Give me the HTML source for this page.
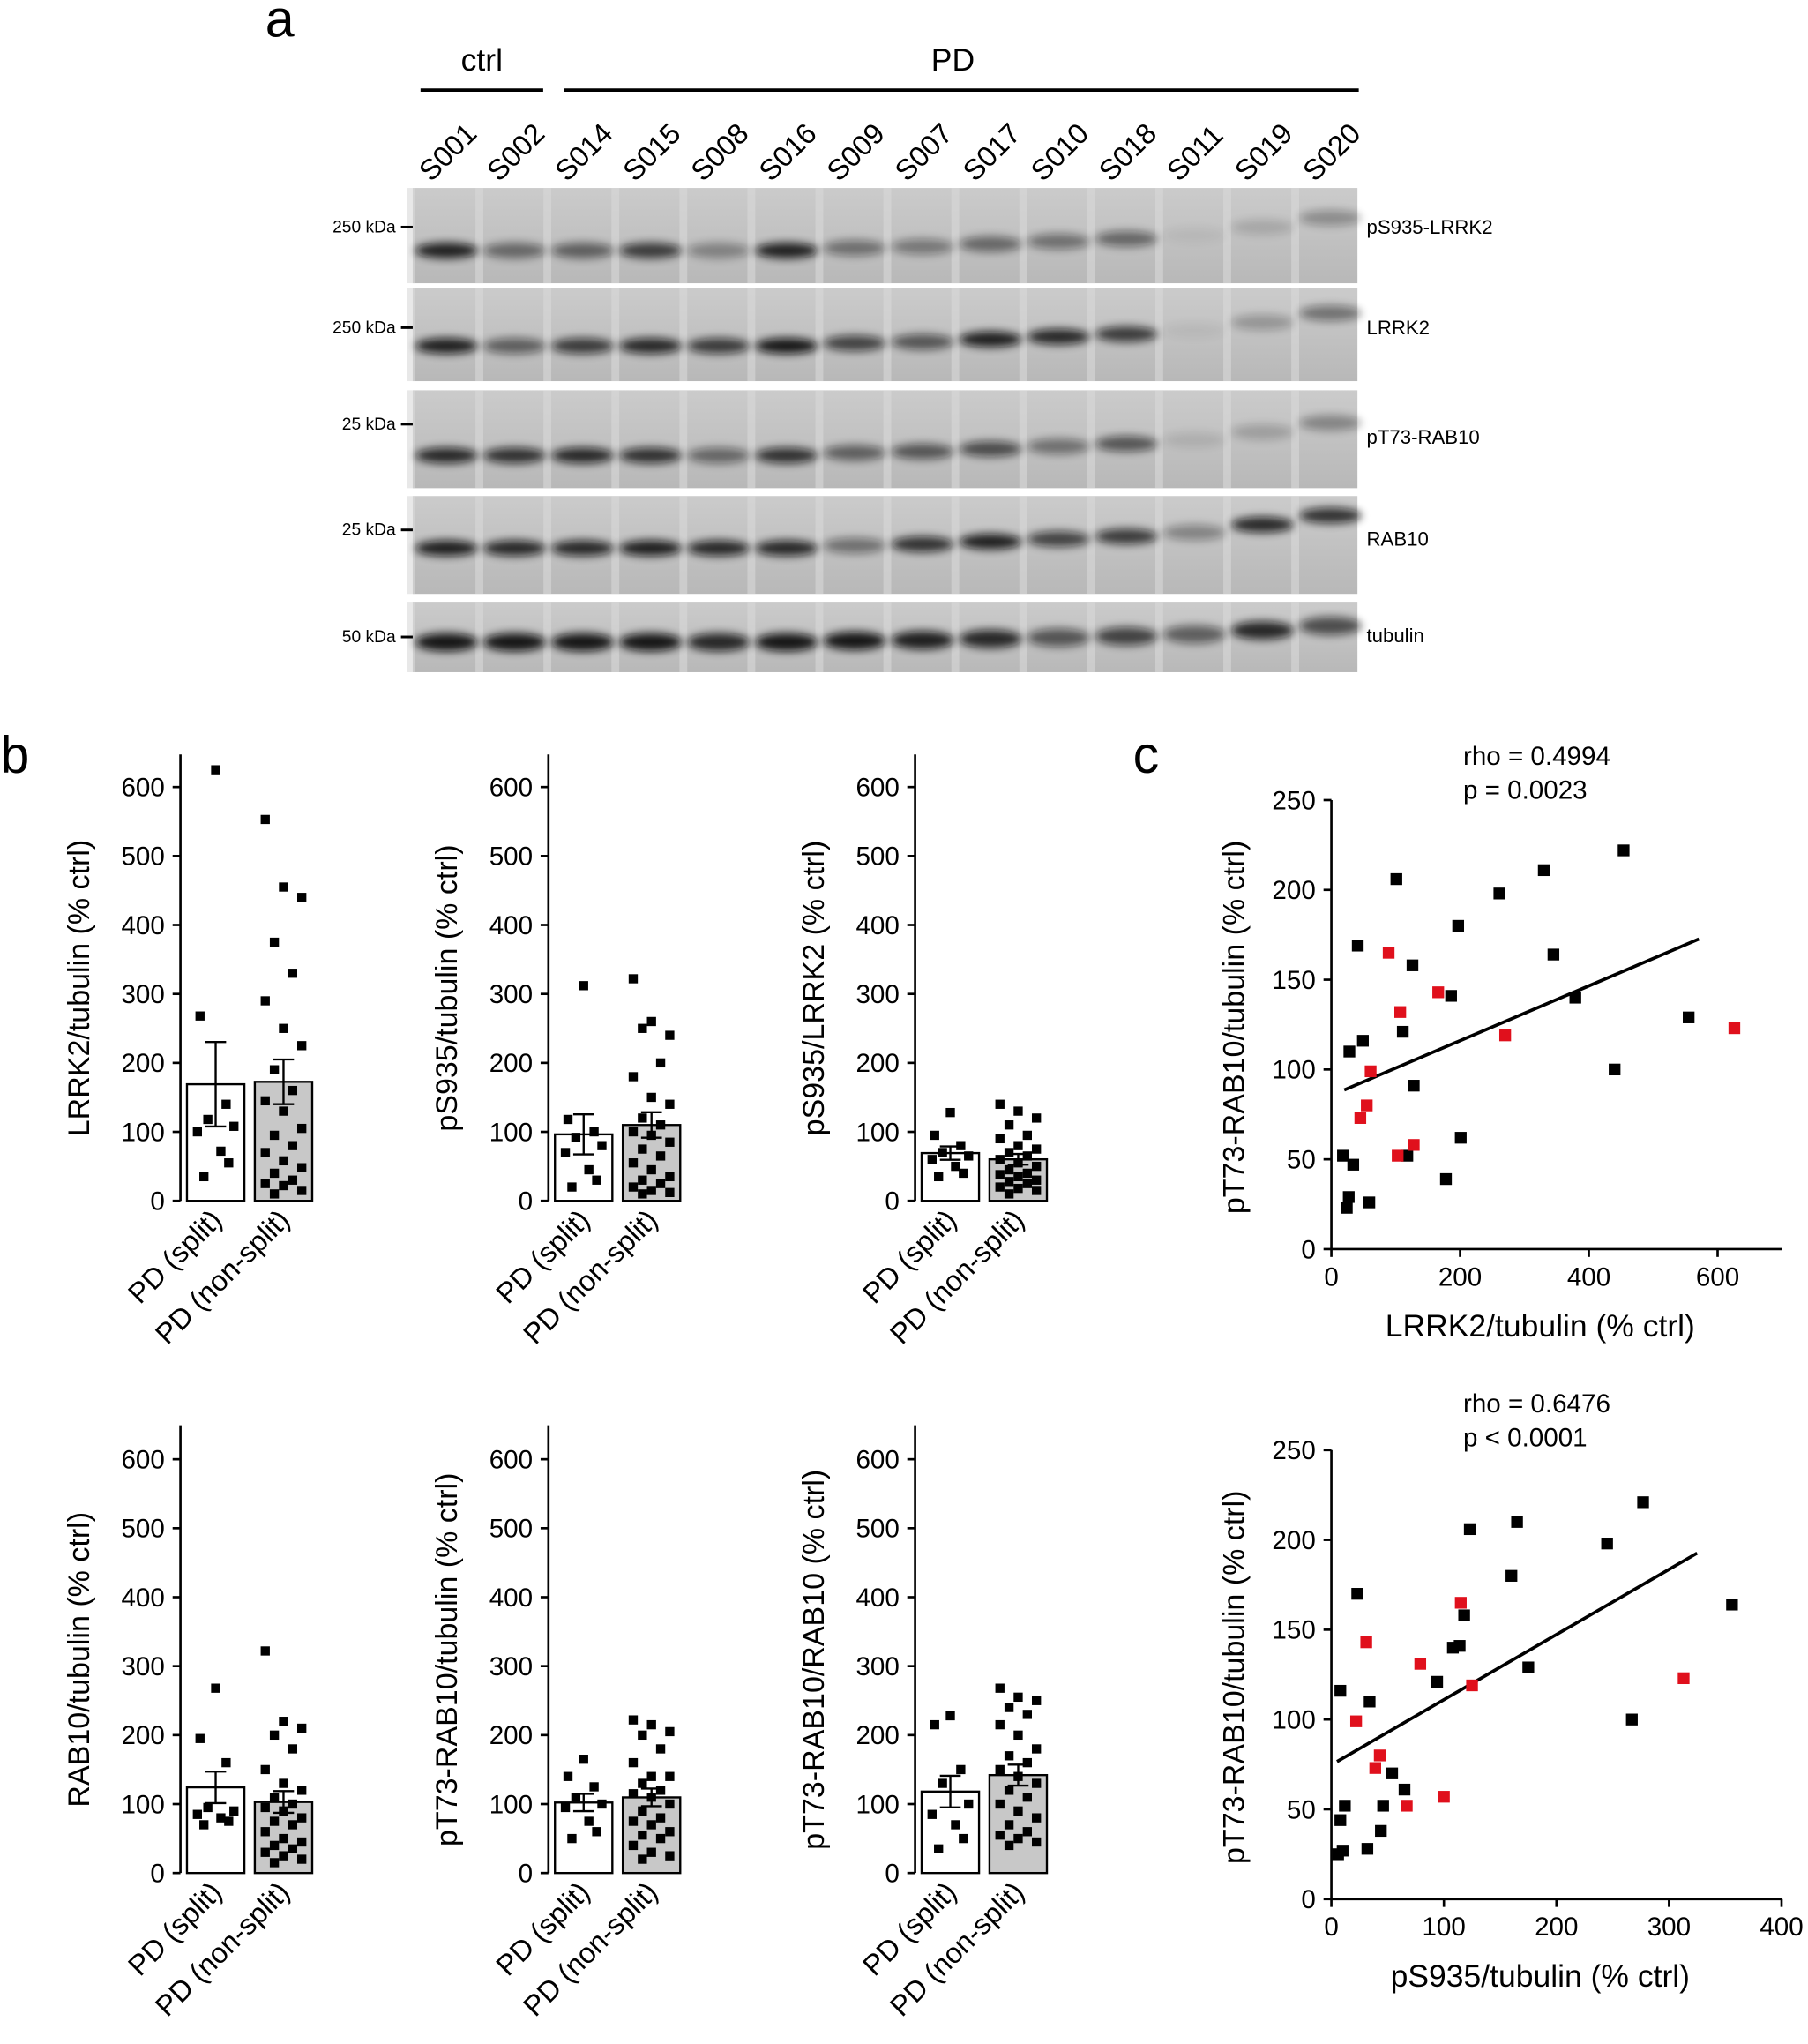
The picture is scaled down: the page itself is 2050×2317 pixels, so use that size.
<!DOCTYPE html>
<html><head><meta charset="utf-8"><style>
html,body{margin:0;padding:0;background:#fff;}
svg{display:block;font-family:"Liberation Sans",Arial,sans-serif;}
</style></head><body>
<svg id="fig" width="2050" height="2317" viewBox="0 0 1385 1566" xmlns="http://www.w3.org/2000/svg">
<defs>
<filter id="blur" x="-50%" y="-100%" width="200%" height="300%"><feGaussianBlur stdDeviation="3.2"/></filter>
<linearGradient id="gelg" x1="0" y1="0" x2="0" y2="1"><stop offset="0" stop-color="#cbcbcb"/><stop offset="1" stop-color="#b8b8b8"/></linearGradient>
</defs>
<text x="203" y="28" font-size="40">a</text>
<text x="0" y="592" font-size="40">b</text>
<text x="868" y="592" font-size="40">c</text>
<g id="blot"></g>
<g id="bars"></g>
<g id="scatters"></g>
</svg>
<script>
// ---------- blot data ----------
const lanes = ["S001","S002","S014","S015","S008","S016","S009","S007","S017","S010","S018","S011","S019","S020"];
const blotRows = ["pS935-LRRK2","LRRK2","pT73-RAB10","RAB10","tubulin"];
const markers = ["250 kDa","250 kDa","25 kDa","25 kDa","50 kDa"];
const bandPS935 = [0.9,0.5,0.55,0.75,0.35,0.9,0.45,0.4,0.5,0.45,0.5,0.05,0.15,0.3];
const bandLRRK2 = [0.9,0.55,0.75,0.85,0.75,0.95,0.7,0.6,0.9,0.85,0.75,0.05,0.25,0.45];
const bandPT73 = [0.85,0.8,0.85,0.8,0.5,0.8,0.55,0.6,0.65,0.45,0.6,0.1,0.2,0.35];
const bandRAB10 = [0.9,0.85,0.85,0.9,0.85,0.85,0.45,0.8,0.9,0.7,0.75,0.35,0.85,0.8];
const bandTub = [0.95,0.95,0.95,0.95,0.85,0.95,0.95,0.9,0.85,0.6,0.7,0.55,0.85,0.65];
const laneShift = [0,0,0,0,0,0,-2,-3,-5,-7,-9,-12,-18,-25];

// ---------- bar chart data ----------
const barTitles = ["LRRK2/tubulin (% ctrl)","pS935/tubulin (% ctrl)","pS935/LRRK2 (% ctrl)","RAB10/tubulin (% ctrl)","pT73-RAB10/tubulin (% ctrl)","pT73-RAB10/RAB10 (% ctrl)"];
const barCategories = ["PD (split)","PD (non-split)"];
const yTicks = [0,100,200,300,400,500,600];
const split1 = [625,268,140,118,108,100,72,55,35];
const non1 = [553,455,440,375,330,290,250,225,190,160,145,130,105,95,80,70,58,48,40,30,25,22,15,10];
const split2 = [312,118,100,92,80,70,45,30,20];
const non2 = [322,260,240,250,200,180,150,140,120,110,100,95,85,75,65,55,45,35,30,25,20,15,12,10];
const split3 = [128,95,80,70,65,60,50,40,35];
const non3 = [140,130,120,110,95,90,80,75,70,65,60,55,50,45,40,38,35,30,28,25,20,18,15,10];
const split4 = [268,195,160,95,90,85,80,75,70];
const non4 = [322,220,210,200,180,150,130,120,110,100,95,90,80,75,70,60,50,45,40,35,30,25,20,15];
const split5 = [165,140,125,110,100,95,75,60,50];
const non5 = [222,215,205,200,180,160,140,140,130,120,115,110,100,90,80,75,70,60,55,50,40,30,25,20];
const split6 = [228,215,150,130,100,85,70,50,35];
const non6 = [268,255,250,240,230,215,200,180,170,160,150,140,130,120,110,100,90,80,70,60,55,50,45,40];

// ---------- scatter data ----------
const sc1BlackX = [18,27,34,24,28,41,49,59,101,111,126,128,118,186,197,201,178,261,330,345,379,440,454,555];
const sc1BlackY = [52,29,47,23,110,169,116,26,206,121,158,91,52,141,180,62,39,198,211,164,140,100,222,129];
const sc1RedX = [89,107,61,55,45,103,128,166,270,626];
const sc1RedY = [165,132,99,80,73,52,58,143,119,123];
const sc2BlackX = [8,12,6,10,8,23,34,32,44,46,54,65,94,108,114,118,123,160,165,175,245,277,267,356];
const sc2BlackY = [44,52,25,27,116,170,110,28,38,52,70,61,121,140,141,158,206,180,210,129,198,221,100,164];
const sc2RedX = [31,22,43,39,67,79,100,115,125,313];
const sc2RedY = [143,99,80,73,52,131,57,165,119,123];
const sc1XTicks = [0,200,400,600];
const sc2XTicks = [0,100,200,300,400];
const scYTicks = [0,50,100,150,200,250];

const NS="http://www.w3.org/2000/svg";
function mk(tag,attrs,parent,text){const e=document.createElementNS(NS,tag);for(const k in attrs)e.setAttribute(k,attrs[k]);if(text!==undefined)e.textContent=text;parent.appendChild(e);return e;}

// ---------- blot ----------
const blot=document.getElementById('blot');
const strips=[[144,217,192],[221,292,265],[299,374,349],[380,455,420],[461,515,492]];
const bandsAll=[bandPS935,bandLRRK2,bandPT73,bandRAB10,bandTub];
const laneX=i=>342+i*52.1;
mk('line',{x1:322,y1:69,x2:416,y2:69,stroke:'#000','stroke-width':2.5},blot);
mk('line',{x1:432,y1:69,x2:1041,y2:69,stroke:'#000','stroke-width':2.5},blot);
let t=mk('text',{x:369,y:54,'font-size':24,'text-anchor':'middle'},blot,'ctrl');


t=mk('text',{x:730,y:54,'font-size':24,'text-anchor':'middle'},blot,'PD');


lanes.forEach((l,i)=>{
  const x=laneX(i)-12, y=140;
  const e=mk('text',{x:x,y:y,'font-size':22,transform:`rotate(-45 ${x} ${y})`},blot,l);
  
  
});
strips.forEach((s,r)=>{
  const g=mk('g',{},blot);
  
  
  mk('rect',{x:316,y:s[0],width:724,height:s[1]-s[0],fill:'url(#gelg)'},g);
  lanes.forEach((l,i)=>{
    mk('rect',{x:laneX(i)-30,y:s[0],width:6,height:s[1]-s[0],fill:'#d8d8d8',opacity:0.6},g);
  });
  const vals=bandsAll[r];
  vals.forEach((v,i)=>{
    const sh=laneShift[i]*(r===4?0.5:1);
    const b=mk('ellipse',{cx:laneX(i),cy:s[2]+sh,rx:24,ry:r===4?7:6,fill:'#111',opacity:v,filter:'url(#blur)'},g);
    
    
  });
  const ty=r===4?488:s[0]+30+(r===2||r===3?-4:0);
  mk('line',{x1:307,y1:ty,x2:316,y2:ty,stroke:'#000','stroke-width':2},g);
  const m=mk('text',{x:303,y:ty+4,'font-size':13,'text-anchor':'end'},blot,markers[r]);
  
  
  const lb=mk('text',{x:1047,y:[179,256,340,418,492][r],'font-size':15},blot,blotRows[r]);
  
  
});

// ---------- bar charts ----------
const bars=document.getElementById('bars');
const splits=[split1,split2,split3,split4,split5,split6];
const nons=[non1,non2,non3,non4,non5,non6];
const jitterS=[0,-12,8,-6,14,-14,4,10,-9];
function meanSem(a){const m=a.reduce((s,v)=>s+v,0)/a.length;const sd=Math.sqrt(a.reduce((s,v)=>s+(v-m)*(v-m),0)/(a.length-1));return [m,sd/Math.sqrt(a.length)];}
for(let c=0;c<6;c++){
  const ax=[138,420,701][c%3];
  const y0=c<3?920:1435, top=c<3?578:1092;
  const k=(c<3?(920-603):(1435-1118))/600;
  const Y=v=>y0-v*k;
  const g=mk('g',{},bars);
  
  
  mk('line',{x1:ax,y1:top,x2:ax,y2:y0,stroke:'#000','stroke-width':1.8},g);
  yTicks.forEach(v=>{
    mk('line',{x1:ax-6,y1:Y(v),x2:ax,y2:Y(v),stroke:'#000','stroke-width':1.8},g);
    const tl=mk('text',{x:ax-12,y:Y(v)+7,'font-size':20,'text-anchor':'end'},g,v);
    
    
  });
  const tx=ax-70, ty=(top+y0)/2+8;
  const yt=mk('text',{x:tx,y:ty,'font-size':23,'text-anchor':'middle',transform:`rotate(-90 ${tx} ${ty})`},g,barTitles[c]);
  
  
  [splits[c],nons[c]].forEach((arr,j)=>{
    const bx=ax+5+j*52, bw=44, cx=bx+bw/2;
    const [m,se]=meanSem(arr);
    const r=mk('rect',{x:bx,y:Y(m),width:bw,height:y0-Y(m),fill:j?'#c8c8c8':'#fff',stroke:'#000','stroke-width':1.6},g);
    
    
    mk('line',{x1:cx,y1:Y(m+se),x2:cx,y2:Y(m-se),stroke:'#000','stroke-width':1.6},g);
    mk('line',{x1:cx-8,y1:Y(m+se),x2:cx+8,y2:Y(m+se),stroke:'#000','stroke-width':1.6},g);
    mk('line',{x1:cx-8,y1:Y(m-se),x2:cx+8,y2:Y(m-se),stroke:'#000','stroke-width':1.6},g);
    arr.forEach((v,i)=>{
      const jx=j?((i*7)%5-2)*7:jitterS[i%jitterS.length];
      const d=mk('rect',{x:cx+jx-3.5,y:Y(v)-3.5,width:7,height:7,fill:'#000'},g);
      
      
    });
    const lx=cx+6, ly=y0+16;
    const lab=mk('text',{x:lx,y:ly,'font-size':22,'text-anchor':'end',transform:`rotate(-45 ${lx} ${ly})`},g,barCategories[j]);
    
    
  });
}

// ---------- scatters ----------
const scat=document.getElementById('scatters');
function scatter(cfg){
  const {x0,y0,xmaxPx,xTicks,xmax,bx,by,rx,ry,title,rho,p,top}=cfg;
  const X=v=>x0+v*(xmaxPx-x0)/xmax;
  const Y=v=>y0-v*1.376;
  const g=mk('g',{},scat);
  
  
  mk('line',{x1:x0,y1:Y(250),x2:x0,y2:y0,stroke:'#000','stroke-width':1.8},g);
  mk('line',{x1:x0,y1:y0,x2:cfg.axisEnd,y2:y0,stroke:'#000','stroke-width':1.8},g);
  scYTicks.forEach(v=>{
    mk('line',{x1:x0-6,y1:Y(v),x2:x0,y2:Y(v),stroke:'#000','stroke-width':1.8},g);
    const e=mk('text',{x:x0-12,y:Y(v)+7,'font-size':20,'text-anchor':'end'},g,v);
    
    
  });
  xTicks.forEach(v=>{
    mk('line',{x1:X(v),y1:y0,x2:X(v),y2:y0+6,stroke:'#000','stroke-width':1.8},g);
    const e=mk('text',{x:X(v),y:y0+28,'font-size':20,'text-anchor':'middle'},g,v);
    
    
  });
  const allX=bx.concat(rx), allY=by.concat(ry);
  const n=allX.length, mx=allX.reduce((a,b)=>a+b)/n, my=allY.reduce((a,b)=>a+b)/n;
  let sxy=0,sxx=0;for(let i=0;i<n;i++){sxy+=(allX[i]-mx)*(allY[i]-my);sxx+=(allX[i]-mx)**2;}
  const sl=sxy/sxx, ic=my-sl*mx;
  const xa=cfg.lineFrom, xb=cfg.lineTo;
  const ln=mk('line',{x1:X(xa),y1:Y(ic+sl*xa),x2:X(xb),y2:Y(ic+sl*xb),stroke:'#000','stroke-width':2.5},g);
  
  
  bx.forEach((v,i)=>{const d=mk('rect',{x:X(v)-4.5,y:Y(by[i])-4.5,width:9,height:9,fill:'#000'},g);
    
    });
  rx.forEach((v,i)=>{const d=mk('rect',{x:X(v)-4.5,y:Y(ry[i])-4.5,width:9,height:9,fill:'#e0101c'},g);
    
    });
  const tx=x0-67, ty=Y(125)+2;
  const yt=mk('text',{x:tx,y:ty,'font-size':23,'text-anchor':'middle',transform:`rotate(-90 ${tx} ${ty})`},g,'pT73-RAB10/tubulin (% ctrl)');
  
  
  const xt=mk('text',{x:cfg.xTitleX,y:y0+67,'font-size':24,'text-anchor':'middle'},g,title);
  
  
  const r1=mk('text',{x:1121,y:top,'font-size':20},g,rho);
  
  
  const r2=mk('text',{x:1121,y:top+26,'font-size':20},g,p);
  
  
}
scatter({name:'scatter-lrrk2',x0:1020,y0:957,xmaxPx:1316,xmax:600,xTicks:sc1XTicks,axisEnd:1365,bx:sc1BlackX,by:sc1BlackY,rx:sc1RedX,ry:sc1RedY,title:'LRRK2/tubulin (% ctrl)',xTitleX:1180,rho:'rho = 0.4994',p:'p = 0.0023',top:586,lineFrom:20,lineTo:571});
scatter({name:'scatter-ps935',x0:1020,y0:1455,xmaxPx:1365,xmax:400,xTicks:sc2XTicks,axisEnd:1365,bx:sc2BlackX,by:sc2BlackY,rx:sc2RedX,ry:sc2RedY,title:'pS935/tubulin (% ctrl)',xTitleX:1180,rho:'rho = 0.6476',p:'p < 0.0001',top:1082,lineFrom:5,lineTo:325});
</script>
</body></html>
